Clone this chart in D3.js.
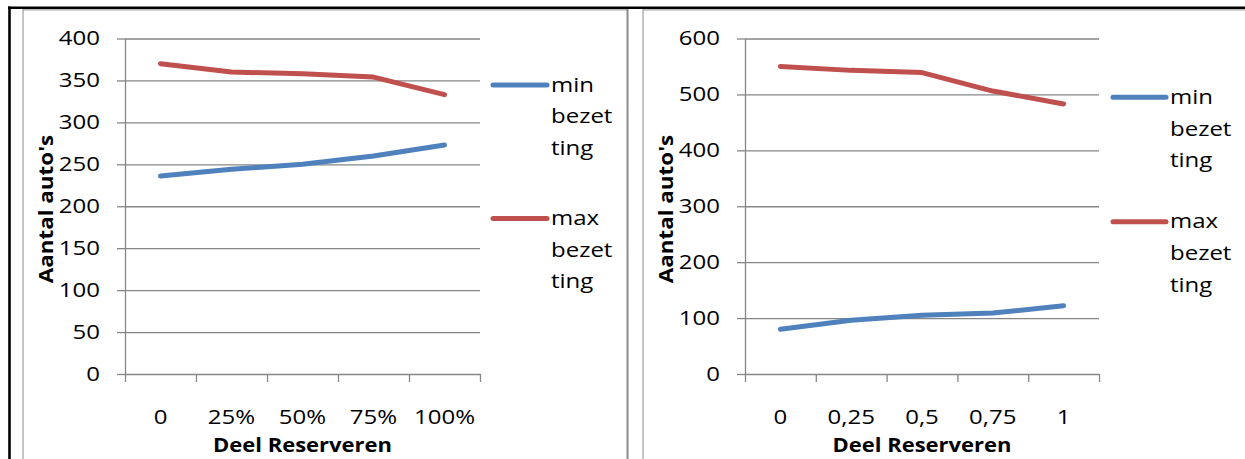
<!DOCTYPE html>
<html>
<head>
<meta charset="utf-8">
<script src="https://cdn.jsdelivr.net/npm/d3@7"></script>
<style>
  html, body { margin: 0; padding: 0; background: #fff; }
  svg { display: block; }
  text { font-family: "Open Sans", "Noto Sans", sans-serif; fill: #000; }
</style>
</head>
<body>
<svg id="chart" width="1245" height="459"></svg>
<script>
// ---- data ----
const seriesNames = ["min bezetting", "max bezetting"];
const legendLines = [["min", "bezet", "ting"], ["max", "bezet", "ting"]];

const categories1 = ["0", "25%", "50%", "75%", "100%"];
const minBezetting1 = [236, 244, 250, 260, 273];
const maxBezetting1 = [370, 360, 358, 354, 333];
const yTicks1 = [0, 50, 100, 150, 200, 250, 300, 350, 400];

const categories2 = ["0", "0,25", "0,5", "0,75", "1"];
const minBezetting2 = [80, 96, 105, 109, 122];
const maxBezetting2 = [550, 543, 539, 506, 483];
const yTicks2 = [0, 100, 200, 300, 400, 500, 600];

const xTitle = "Deel Reserveren";
const yTitle = "Aantal auto's";

// ---- style ----
const colors = ["#4F81BD", "#C0504D"];
const gridColor = "#868686";
const fontSize = 20;
const sx = 1.2;      // horizontal stretch for regular text
const sxBold = 1.1;  // stretch for bold titles

const svg = d3.select("#chart");

// outer frame
svg.append("line").attr("x1", 23).attr("x2", 627.5).attr("y1", 9.8).attr("y2", 9.8)
  .attr("stroke", "#a6a6a6").attr("stroke-width", 1.3);
svg.append("line").attr("x1", 643).attr("x2", 1245).attr("y1", 9.8).attr("y2", 9.8)
  .attr("stroke", "#a6a6a6").attr("stroke-width", 1.3);
svg.append("line").attr("x1", 23).attr("x2", 23).attr("y1", 9).attr("y2", 459)
  .attr("stroke", "#a6a6a6").attr("stroke-width", 1.3);
svg.append("line").attr("x1", 627.5).attr("x2", 627.5).attr("y1", 9).attr("y2", 459)
  .attr("stroke", "#8c8c8c").attr("stroke-width", 2);
svg.append("line").attr("x1", 643).attr("x2", 643).attr("y1", 9).attr("y2", 459)
  .attr("stroke", "#a6a6a6").attr("stroke-width", 1.3);
svg.append("line").attr("x1", 8).attr("x2", 1245).attr("y1", 7.8).attr("y2", 7.8)
  .attr("stroke", "#000").attr("stroke-width", 2.6);
svg.append("line").attr("x1", 9.5).attr("x2", 9.5).attr("y1", 6.5).attr("y2", 459)
  .attr("stroke", "#000").attr("stroke-width", 2.6);

function drawChart(cfg) {
  const { left, right, top, bottom, categories, series, ticks, yMax, legend } = cfg;
  const g = svg.append("g");

  const x = d3.scaleBand().domain(categories).range([left, right]).padding(0);
  const xEdges = d3.scaleLinear().domain([0, categories.length]).range([left, right]);
  const y = d3.scaleLinear().domain([0, yMax]).range([bottom, top]);

  // gridlines
  g.append("g").attr("transform", `translate(${left},0)`)
    .call(d3.axisLeft(y).tickValues(ticks.filter(t => t > 0)).tickSize(-(right - left)).tickFormat(""))
    .call(a => a.select(".domain").remove())
    .call(a => a.selectAll("line").attr("stroke", gridColor).attr("stroke-width", 1.3));

  // y axis
  const ya = g.append("g").attr("transform", `translate(${left},0)`)
    .call(d3.axisLeft(y).tickValues(ticks).tickSize(8).tickSizeOuter(0).tickPadding(17));
  ya.select(".domain").attr("stroke", gridColor).attr("stroke-width", 1.3);
  ya.selectAll("line").attr("stroke", gridColor).attr("stroke-width", 1.3);
  ya.selectAll("text").attr("font-size", fontSize).attr("font-family", "Open Sans")
    .attr("x", -25 / sx).attr("transform", `scale(${sx},1)`);

  // x axis: boundary ticks
  const xa = g.append("g").attr("transform", `translate(0,${bottom})`)
    .call(d3.axisBottom(xEdges).tickValues(d3.range(categories.length + 1)).tickSize(8).tickSizeOuter(0).tickFormat(""));
  xa.select(".domain").attr("stroke", gridColor).attr("stroke-width", 1.3);
  xa.selectAll("line").attr("stroke", gridColor).attr("stroke-width", 1.3);

  // x axis labels at band centres
  const xl = g.append("g").attr("transform", `translate(0,${bottom})`)
    .call(d3.axisBottom(x).tickSize(0).tickPadding(35.5));
  xl.select(".domain").remove();
  xl.selectAll("text").attr("font-size", fontSize).attr("font-family", "Open Sans")
    .attr("transform", `scale(${sx},1)`).attr("x", 0);

  // axis titles
  const cx = (left + right) / 2;
  g.append("text").attr("transform", `translate(${cx},451.5) scale(${sxBold},1)`)
    .attr("text-anchor", "middle").attr("font-size", fontSize).attr("font-weight", "bold")
    .text(xTitle);
  g.append("text").attr("transform", `translate(${left - 72},209) rotate(-90) scale(1.12,1)`)
    .attr("text-anchor", "middle").attr("font-size", fontSize).attr("font-weight", "bold")
    .text(yTitle);

  // lines
  const line = d3.line().x((d, i) => x(categories[i]) + x.bandwidth() / 2).y(d => y(d));
  series.forEach((s, k) => {
    g.append("path").datum(s).attr("d", line).attr("fill", "none")
      .attr("stroke", colors[k]).attr("stroke-width", 5)
      .attr("stroke-linecap", "round").attr("stroke-linejoin", "round");
  });

  // legend
  legend.ys.forEach((ly, k) => {
    g.append("line").attr("x1", legend.x1).attr("x2", legend.x2).attr("y1", ly).attr("y2", ly)
      .attr("stroke", colors[k]).attr("stroke-width", 5).attr("stroke-linecap", "round");
    legendLines[k].forEach((t, j) => {
      g.append("text").attr("transform", `translate(${legend.x2 + 4},${ly + 6.5 + j * 31.7}) scale(${sx},1)`)
        .attr("font-size", fontSize).text(t);
    });
  });
}

drawChart({
  left: 125, right: 480, top: 38.5, bottom: 374,
  categories: categories1, series: [minBezetting1, maxBezetting1],
  ticks: yTicks1, yMax: 400,
  legend: { x1: 493, x2: 547, ys: [85, 218.5] }
});

drawChart({
  left: 745, right: 1099, top: 38.5, bottom: 374,
  categories: categories2, series: [minBezetting2, maxBezetting2],
  ticks: yTicks2, yMax: 600,
  legend: { x1: 1113, x2: 1166, ys: [97.3, 221.7] }
});
</script>
</body>
</html>
